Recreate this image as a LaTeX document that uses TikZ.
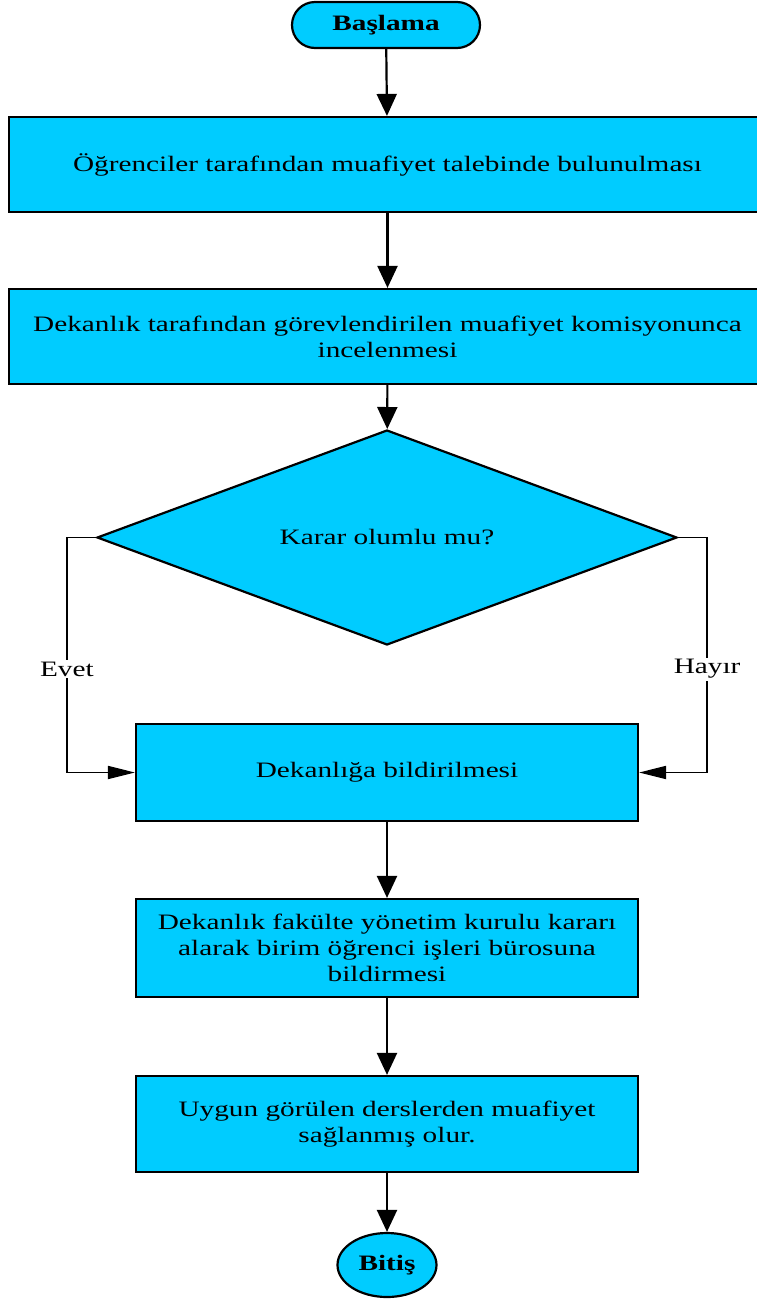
\documentclass[tikz,border=0pt]{standalone}
\usepackage{fontspec}
\setmainfont{Liberation Serif}[FakeStretch=1.33]
\usepackage{tikz}
\usetikzlibrary{positioning, shapes.geometric, arrows.meta, calc}

\definecolor{flowcyan}{RGB}{0,204,255}

\begin{document}
\begin{tikzpicture}[x=1pt, y=-1pt, font=\fontsize{22}{26}\selectfont,
    line width=2.2pt,
    box/.style={draw, fill=flowcyan, rectangle, align=center, inner sep=0pt},
    term/.style={draw, fill=flowcyan, font=\fontsize{22}{26}\selectfont\bfseries, inner sep=0pt},
    flow/.style={-{Triangle[length=22pt, width=20pt]}},
    side/.style={line width=1.8pt, -{Triangle[length=27pt, width=13pt]}},
    lbl/.style={fill=white, inner sep=2pt}]

    % sayfa sınırı
    \useasboundingbox (0,0) rectangle (756,1302);

    % --- düğümler ---
    \node[term, rectangle, rounded corners=23pt, minimum width=188pt, minimum height=46pt] (start) at (386, 25) {Başlama};

    \node[box, minimum width=757pt, minimum height=95pt] (talep) at (387.5, 164.5)
        {Öğrenciler tarafından muafiyet talebinde bulunulması};

    \node[box, minimum width=757pt, minimum height=95pt] (inceleme) at (387.5, 336.5)
        {Dekanlık tarafından görevlendirilen muafiyet komisyonunca\\incelenmesi};

    \node[draw, fill=flowcyan, diamond, aspect=2.7, inner sep=0pt, minimum width=580pt, minimum height=215pt] (karar) at (387, 537.5)
        {Karar olumlu mu?};

    \node[box, minimum width=502pt, minimum height=97pt] (bildir) at (387, 772.5)
        {Dekanlığa bildirilmesi};

    \node[box, minimum width=502pt, minimum height=98pt] (kurul) at (387, 948)
        {Dekanlık fakülte yönetim kurulu kararı\\alarak birim öğrenci işleri bürosuna\\bildirmesi};

    \node[box, minimum width=502pt, minimum height=96pt] (sonuc) at (387, 1124)
        {Uygun görülen derslerden muafiyet\\sağlanmış olur.};

    \node[term, ellipse, minimum width=99pt, minimum height=64pt] (bitis) at (387, 1265) {Bitiş};

    % --- bağlantılar ---
    \draw[flow] (start) -- (talep);
    \draw[flow] (talep) -- (inceleme);
    \draw[flow] (inceleme) -- (karar);

    \draw[side] (karar.west) -- ++(-29,0) coordinate (evetk)
        |- node[pos=0.28, lbl] {Evet} (bildir.west);
    \draw[side] (karar.east) -- ++(29,0) coordinate (hayirk)
        |- node[pos=0.28, lbl] {Hayır} (bildir.east);

    \draw[flow] (bildir) -- (kurul);
    \draw[flow] (kurul) -- (sonuc);
    \draw[flow] (sonuc) -- (bitis);
\end{tikzpicture}
\end{document}
